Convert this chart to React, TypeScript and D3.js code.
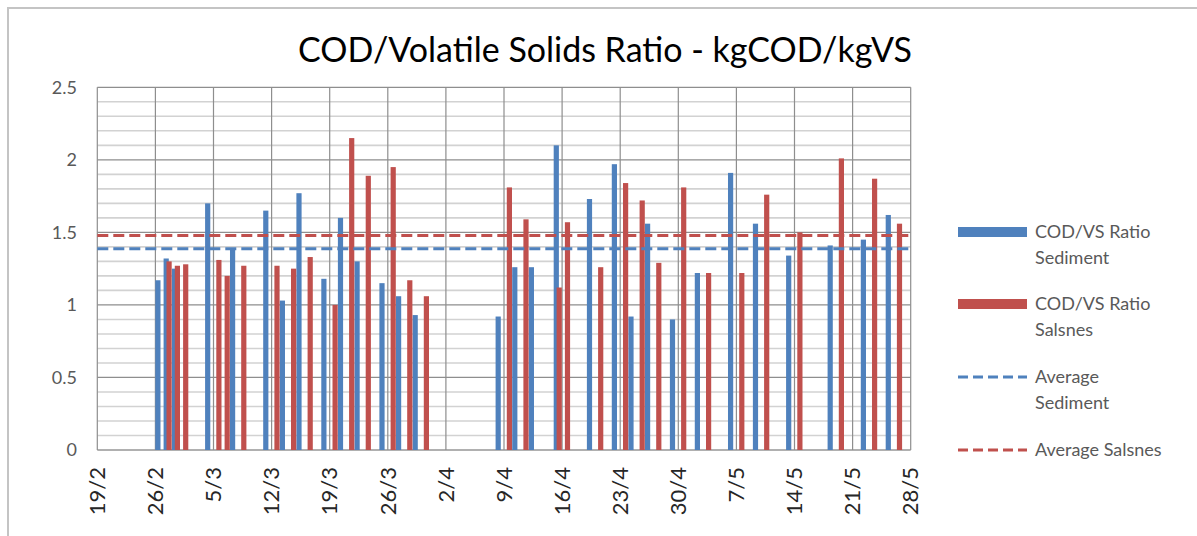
import React, { useEffect, useRef } from "react";
import * as d3 from "d3";

const title = "COD/Volatile Solids Ratio - kgCOD/kgVS";
const startDate = "2015-02-19";
const endDate = "2015-05-28";

const sedimentDates = [
  "2015-02-26", "2015-02-27", "2015-02-28", "2015-03-04", "2015-03-07", "2015-03-11",
  "2015-03-13", "2015-03-15", "2015-03-18", "2015-03-20", "2015-03-22", "2015-03-25",
  "2015-03-27", "2015-03-29", "2015-04-08", "2015-04-10", "2015-04-12", "2015-04-15",
  "2015-04-19", "2015-04-22", "2015-04-24", "2015-04-26", "2015-04-29", "2015-05-02",
  "2015-05-06", "2015-05-09", "2015-05-13", "2015-05-18", "2015-05-22", "2015-05-25",
];
const sedimentValues = [
  1.17, 1.32, 1.25, 1.70, 1.39, 1.65,
  1.03, 1.77, 1.18, 1.60, 1.30, 1.15,
  1.06, 0.93, 0.92, 1.26, 1.26, 2.10,
  1.73, 1.97, 0.92, 1.56, 0.90, 1.22,
  1.91, 1.56, 1.34, 1.41, 1.45, 1.62,
];

const salsnesDates = [
  "2015-02-27", "2015-02-28", "2015-03-01", "2015-03-05", "2015-03-06", "2015-03-08",
  "2015-03-12", "2015-03-14", "2015-03-16", "2015-03-19", "2015-03-21", "2015-03-23",
  "2015-03-26", "2015-03-28", "2015-03-30", "2015-04-09", "2015-04-11", "2015-04-15",
  "2015-04-16", "2015-04-20", "2015-04-23", "2015-04-25", "2015-04-27", "2015-04-30",
  "2015-05-03", "2015-05-07", "2015-05-10", "2015-05-14", "2015-05-19", "2015-05-23",
  "2015-05-26",
];
const salsnesValues = [
  1.30, 1.27, 1.28, 1.31, 1.20, 1.27,
  1.27, 1.25, 1.33, 1.00, 2.15, 1.89,
  1.95, 1.17, 1.06, 1.81, 1.59, 1.12,
  1.57, 1.26, 1.84, 1.72, 1.29, 1.81,
  1.22, 1.22, 1.76, 1.50, 2.01, 1.87,
  1.56,
];

const yTicks = [0, 0.5, 1, 1.5, 2, 2.5];
const legendItems = [
  { lines: ["COD/VS Ratio", "Sediment"], kind: "bar", series: 0 },
  { lines: ["COD/VS Ratio", "Salsnes"], kind: "bar", series: 1 },
  { lines: ["Average", "Sediment"], kind: "dash", series: 0 },
  { lines: ["Average Salsnes"], kind: "dash", series: 1 },
];
const colors = ["#4F81BD", "#C0504D"];

export default function App() {
  const ref = useRef<SVGSVGElement>(null);

  useEffect(() => {
    const svg = d3.select(ref.current);
    svg.selectAll("*").remove();
    const parse = d3.utcParse("%Y-%m-%d");
    const t0 = parse(startDate) as Date;
    const t1 = parse(endDate) as Date;

    const left = 97.3, right = 910.7, top = 87.3, bottom = 450;
    const x = d3.scaleUtc().domain([t0, t1]).range([left, right]);
    const y = d3.scaleLinear().domain([0, 2.5]).range([bottom, top]);
    const dayW = x(d3.utcDay.offset(t0, 1)) - x(t0);

    svg.append("rect").attr("x", 0).attr("y", 0).attr("width", 1197).attr("height", 536).attr("fill", "#fff");
    svg.append("rect").attr("x", 8).attr("y", 8).attr("width", 1210).attr("height", 560)
      .attr("fill", "#fff").attr("stroke", "#c4c4c4").attr("stroke-width", 2);

    // minor horizontal gridlines
    const minor = d3.range(0, 25).map((i) => i / 10).filter((v) => Math.round(v * 10) % 5 !== 0);
    svg.append("g").selectAll("line").data(minor).join("line")
      .attr("x1", left).attr("x2", right)
      .attr("y1", (d) => y(d)).attr("y2", (d) => y(d))
      .attr("stroke", "#d2d2d2").attr("stroke-width", 1.6);

    // major horizontal gridlines
    svg.append("g").selectAll("line").data(yTicks).join("line")
      .attr("x1", left).attr("x2", right)
      .attr("y1", (d) => y(d)).attr("y2", (d) => y(d))
      .attr("stroke", (d) => (d === 0 ? "#b0b0b0" : "#8e8e8e")).attr("stroke-width", (d) => (d === 0 ? 2 : 1.2));

    // vertical gridlines (weekly)
    const weekTicks = d3.utcDay.range(t0, d3.utcDay.offset(t1, 1), 7);
    svg.append("g").selectAll("line").data(weekTicks).join("line")
      .attr("x1", (d) => x(d)).attr("x2", (d) => x(d))
      .attr("y1", top).attr("y2", bottom)
      .attr("stroke", "#8e8e8e").attr("stroke-width", 1.2);

    // y labels
    svg.append("g").selectAll("text").data(yTicks).join("text")
      .attr("x", 77).attr("y", (d) => y(d)).attr("dy", "0.35em")
      .attr("text-anchor", "end").attr("font-size", 18).attr("fill", "#595959")
      .text((d) => d3.format("")(d));

    // x labels
    const fmt = d3.utcFormat("%-d/%-m");
    svg.append("g").selectAll("text").data(weekTicks).join("text")
      .attr("transform", (d) => `translate(${x(d)},467) rotate(-90)`)
      .attr("dy", "0.35em").attr("text-anchor", "end")
      .attr("font-size", 22).attr("fill", "#262626")
      .text((d) => fmt(d));

    const barW = 5.2;
    const series = [
      { dates: sedimentDates, values: sedimentValues, frac: 0.3, color: colors[0] },
      { dates: salsnesDates, values: salsnesValues, frac: 0.65, color: colors[1] },
    ];
    series.forEach((s) => {
      const data = s.dates.map((d, i) => ({ date: parse(d) as Date, value: s.values[i] }));
      svg.append("g").selectAll("rect").data(data).join("rect")
        .attr("x", (d) => x(d.date) + s.frac * dayW - barW / 2)
        .attr("width", barW)
        .attr("y", (d) => y(d.value))
        .attr("height", (d) => y(0) - y(d.value))
        .attr("fill", s.color);
    });

    // average lines
    series.forEach((s) => {
      const avg = d3.mean(s.values) as number;
      svg.append("line")
        .attr("x1", left).attr("x2", right)
        .attr("y1", y(avg)).attr("y2", y(avg))
        .attr("stroke", s.color).attr("stroke-width", 3)
        .attr("stroke-dasharray", "11,5");
    });

    // title
    svg.append("text")
      .attr("x", 605).attr("y", 62).attr("text-anchor", "middle")
      .attr("font-size", 35).attr("fill", "#000")
      .attr("textLength", 614).attr("lengthAdjust", "spacingAndGlyphs")
      .text(title);

    // legend
    const legendY = [232, 304, 377, 450];
    const lg = svg.append("g");
    legendItems.forEach((item, i) => {
      const cy = legendY[i];
      if (item.kind === "bar") {
        lg.append("rect").attr("x", 958).attr("y", cy - 5).attr("width", 69).attr("height", 10)
          .attr("fill", colors[item.series]);
      } else {
        lg.append("line").attr("x1", 958).attr("x2", 1027).attr("y1", cy).attr("y2", cy)
          .attr("stroke", colors[item.series]).attr("stroke-width", 3)
          .attr("stroke-dasharray", "10,5");
      }
      item.lines.forEach((ln, j) => {
        lg.append("text").attr("x", 1035).attr("y", cy + j * 26).attr("dy", "0.35em")
          .attr("font-size", 18).attr("fill", "#595959").text(ln);
      });
    });
  }, []);

  return (
    <svg
      ref={ref}
      width={1197}
      height={536}
      style={{ position: "absolute", left: 0, top: 0, fontFamily: "Lato, 'Open Sans', sans-serif" }}
    />
  );
}
